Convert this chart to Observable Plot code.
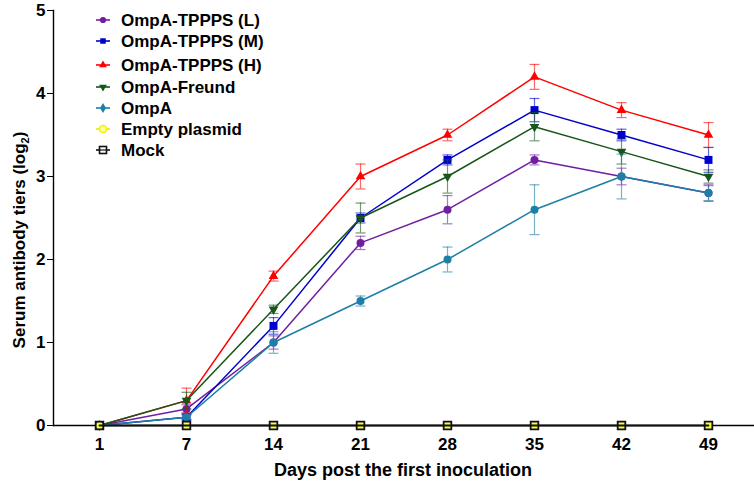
<!DOCTYPE html>
<html><head><meta charset="utf-8">
<script src="https://cdn.jsdelivr.net/npm/d3@7"></script>
<script src="https://cdn.jsdelivr.net/npm/@observablehq/plot@0.6"></script>
<style>
body{margin:0;background:#fff;}
#wrap{position:relative;width:754px;height:483px;font-family:"Liberation Sans",Arial,sans-serif;color:#000;}
#wrap svg{position:absolute;left:0;top:0;}
</style></head><body><div id="wrap"></div>
<script>
// ---- data ----
const days = ["1","7","14","21","28","35","42","49"];
const yTicks = [0,1,2,3,4,5];
const seriesNames = ["OmpA-TPPPS (L)","OmpA-TPPPS (M)","OmpA-TPPPS (H)","OmpA-Freund","OmpA","Empty plasmid","Mock"];
const valuesL = [0,0.2,1.0,2.2,2.6,3.2,3.0,2.8];
const errL    = [0,0.05,0.08,0.08,0.17,0.06,0.1,0.1];
const valuesM = [0,0.1,1.2,2.5,3.2,3.8,3.5,3.2];
const errM    = [0,0.03,0.1,0.06,0.06,0.14,0.07,0.15];
const valuesH = [0,0.3,1.8,3.0,3.5,4.2,3.8,3.5];
const errH    = [0,0.15,0.06,0.15,0.07,0.15,0.09,0.15];
const valuesF = [0,0.3,1.4,2.5,3.0,3.6,3.3,3.0];
const errF    = [0,0.1,0.05,0.18,0.2,0.17,0.15,0.08];
const valuesO = [0,0.1,1.0,1.5,2.0,2.6,3.0,2.8];
const errO    = [0,0.03,0.13,0.06,0.15,0.3,0.27,0.09];
const valuesE = [0,0,0,0,0,0,0,0];
const errE    = [0,0,0,0,0,0,0,0];
const valuesMock = [0,0,0,0,0,0,0,0];
const errMock    = [0,0,0,0,0,0,0,0];
const xLabel = "Days post the first inoculation";

// ---- styles ----
const styles = [
  {color:"#6f1fa0", symbol:"circle", r:4, rotate:0, fill:"#6f1fa0", legend:"circle", line:true},
  {color:"#0000cc", symbol:"square", r:4.5, rotate:0, fill:"#0000cc", legend:"square", line:true},
  {color:"#ff0000", symbol:"triangle", r:3.6, rotate:0, fill:"#ff0000", legend:"triangle", line:true},
  {color:"#17561a", symbol:"triangle", r:3.6, rotate:180, fill:"#17561a", legend:"triangle2", line:true},
  {color:"#1b7fa6", symbol:"circle", r:4, rotate:0, fill:"#1b7fa6", legend:"diamond", line:true},
  {color:"#e8e800", symbol:"circle", r:3.5, rotate:0, fill:"#ffff33", legend:"ring", line:false},
  {color:"#111111", symbol:"square", r:4.3, rotate:0, fill:"none", legend:"hsquare", line:true}
];
const allValues = [valuesL,valuesM,valuesH,valuesF,valuesO,valuesE,valuesMock];
const allErr = [errL,errM,errH,errF,errO,errE,errMock];

const rows = [];
seriesNames.forEach((s,i)=>days.forEach((d,j)=>rows.push({series:s, idx:i, day:d, value:allValues[i][j], err:allErr[i][j]})));

const capSymbol = {draw(ctx){ ctx.moveTo(-5,0); ctx.lineTo(5,0); }};

const marks = [
  Plot.ruleY([0], {stroke:"#000", strokeWidth:1.6}),
  Plot.frame({anchor:"left", stroke:"#000", strokeWidth:1.4}),
  Plot.axisY({ticks:yTicks, tickFormat:"d", tickSize:6, tickPadding:2, fontSize:17, fontWeight:"bold", label:null, stroke:"#000"}),
  Plot.axisX({tickSize:0, tickPadding:12, fontSize:17, fontWeight:"bold", label:null})
];
seriesNames.forEach((s,i)=>{
  const st = styles[i];
  const data = rows.filter(r=>r.idx===i);
  const withErr = data.filter(r=>r.err>0);
  marks.push(
    Plot.ruleX(withErr, {x:"day", y1:d=>d.value-d.err, y2:d=>d.value+d.err, stroke:st.color, strokeOpacity:0.6, strokeWidth:1.2}),
    Plot.dot(withErr, {x:"day", y:d=>d.value+d.err, symbol:capSymbol, fill:"none", stroke:st.color, strokeOpacity:0.6, strokeWidth:1.2}),
    Plot.dot(withErr, {x:"day", y:d=>d.value-d.err, symbol:capSymbol, fill:"none", stroke:st.color, strokeOpacity:0.6, strokeWidth:1.2})
  );
  if (st.line) marks.push(Plot.line(data, {x:"day", y:"value", stroke:st.color, strokeWidth: i===6 ? 1.8 : 1.5}));
  marks.push(Plot.dot(data, {x:"day", y:"value", symbol:st.symbol, r:st.r, rotate:st.rotate, fill:st.fill, stroke: st.fill==="none"? st.color : "none", strokeWidth:1.8}));
});

const plot = Plot.plot({
  width:754, height:483,
  marginLeft:53, marginRight:0, marginTop:10, marginBottom:58,
  x:{type:"point", domain:days, padding:0.5, label:null},
  y:{domain:[0,5], label:null},
  style:{fontFamily:'"Liberation Sans", Arial, sans-serif', color:"#000", background:"#fff"},
  marks
});
document.getElementById("wrap").appendChild(plot);

const svg = d3.select(plot);
// y label with subscript
const yl = svg.append("text")
  .attr("transform","translate(25,240) rotate(-90)")
  .attr("text-anchor","middle")
  .attr("font-size",17).attr("font-weight","bold").attr("fill","#000");
yl.append("tspan").text("Serum antibody tiers (log");
yl.append("tspan").attr("font-size",11).attr("dy",4).text("2");
yl.append("tspan").attr("dy",-4).text(")");
// x label
svg.append("text").attr("x",403).attr("y",476).attr("text-anchor","middle")
  .attr("font-size",18).attr("font-weight","bold").attr("fill","#000").text(xLabel);

// legend
const leg = d3.select("#wrap").append("svg").attr("width",300).attr("height",170);
const legY = [20,41,65,87,108,129,150];
seriesNames.forEach((s,i)=>{
  const st = styles[i];
  const g = leg.append("g").attr("transform",`translate(103,${legY[i]})`);
  g.append("line").attr("x1",-7).attr("x2",7).attr("stroke",st.color).attr("stroke-width",1.6);
  if (st.legend==="circle") g.append("path").attr("d",d3.symbol(d3.symbolCircle,30)()).attr("fill",st.color);
  else if (st.legend==="square") g.append("path").attr("d",d3.symbol(d3.symbolSquare,30)()).attr("fill",st.color);
  else if (st.legend==="triangle") g.append("path").attr("d",d3.symbol(d3.symbolTriangle,26)()).attr("fill",st.color);
  else if (st.legend==="triangle2") g.append("path").attr("d",d3.symbol(d3.symbolTriangle,26)()).attr("transform","rotate(180)").attr("fill",st.color);
  else if (st.legend==="diamond") g.append("path").attr("d",d3.symbol(d3.symbolDiamond,30)()).attr("fill",st.color);
  else if (st.legend==="ring") g.append("circle").attr("r",3.5).attr("fill","#ffffb0").attr("stroke","#f2f200").attr("stroke-width",1.6);
  else g.append("rect").attr("x",-3.5).attr("y",-3.5).attr("width",7).attr("height",7).attr("fill","#fff").attr("stroke",st.color).attr("stroke-width",1.6);
  if (st.legend==="hsquare") g.append("line").attr("x1",-3.5).attr("x2",3.5).attr("stroke",st.color).attr("stroke-width",1.2);
  g.append("text").attr("x",18).attr("dy","0.35em").attr("font-size",17).attr("font-weight","bold").attr("fill","#000").text(s);
});
</script></body></html>
